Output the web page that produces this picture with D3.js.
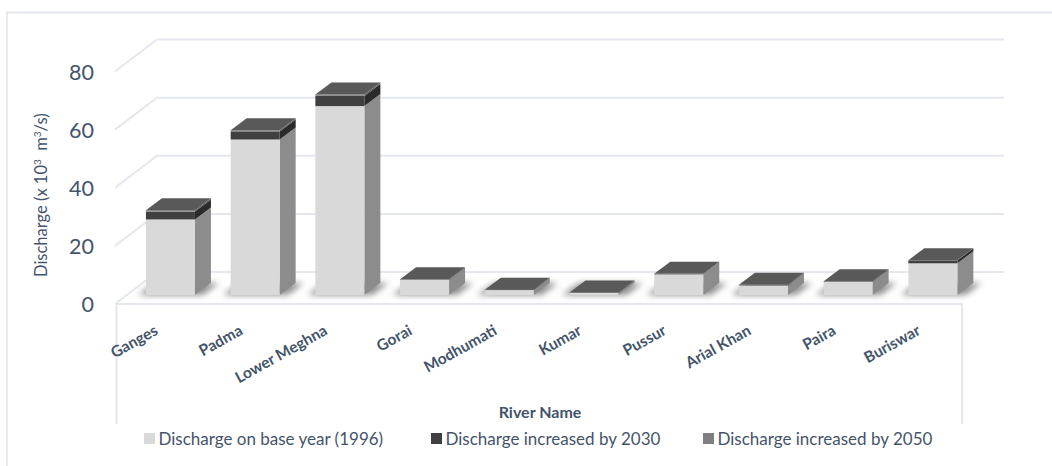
<!DOCTYPE html>
<html><head><meta charset="utf-8">
<script src="https://cdn.jsdelivr.net/npm/d3@7"></script>
<style>html,body{margin:0;padding:0;background:#fff}svg{display:block}</style></head>
<body><script>
const rivers = ["Ganges","Padma","Lower Meghna","Gorai","Modhumati","Kumar","Pussur","Arial Khan","Paira","Buriswar"];
const base1996 = [26,53.5,65,5.2,1.7,0.8,7.1,3.3,4.5,10.9];
const inc2030 = [2.7,2.8,3.5,0.15,0.05,0.05,0.15,0.15,0.15,1.0];
const inc2050 = [0.5,0.4,0.5,0.05,0.05,0.05,0.05,0.05,0.05,0.1];
const yTicks = [0,20,40,60,80];
const seriesNames = ["Discharge on base year (1996)","Discharge increased by 2030","Discharge increased by 2050"];
const frontColors = ["#d9d9d9","#404040","#8a8a8a"];
const sideColors = ["#8c8c8c","#2b2b2b","#5a5a5a"];
const legendColors = ["#d9d9d9","#404040","#7f7f7f"];

const W=1052,H=466, grid="#e4e7ee", ink="#44546a", font="Lato, Carlito, sans-serif";
const svg=d3.select("body").append("svg").attr("width",W).attr("height",H).style("font-family",font);
const defs=svg.append("defs");
defs.append("filter").attr("id","blur").attr("x","-30%").attr("y","-60%").attr("width","160%").attr("height","220%")
  .append("feGaussianBlur").attr("stdDeviation",3);

svg.append("path").attr("d","M7,466V12.5H1052").attr("fill","none").attr("stroke",grid).attr("stroke-width",1.8);

const dx=42, dy=-32;           // depth of the floor
const y=d3.scaleLinear().domain([0,80]).range([304,71.5]);
const frontL=115, frontR=962;
const g=svg.append("g");
yTicks.forEach(t=>{
  const p=[[frontL,y(t)],[frontL+dx,y(t)+dy],[frontR+dx,y(t)+dy]];
  g.append("path").attr("d",d3.line()(p)).attr("fill","none").attr("stroke",grid).attr("stroke-width",2);
  g.append("text").attr("x",94).attr("y",y(t)+8).attr("text-anchor","end").attr("font-size",21.5).attr("fill",ink).text(t);
});
// floor front edge and drop lines
g.append("path").attr("d",d3.line()([[116.5,424],[116.5,304],[962,304],[962,424]])).attr("fill","none").attr("stroke",grid).attr("stroke-width",2);

// bars
const x=d3.scaleBand().domain(rivers).range([128.15,975.15]).paddingInner(0.4215).paddingOuter(0.21);
const bx=16, by=-12, baseY=295;
const v=d=>y(d)-y(0);
const stacks=rivers.map((r,i)=>{let c=0;return [base1996[i],inc2030[i],inc2050[i]].map((val,s)=>{const o={r,s,y0:c,y1:c+val};c+=val;return o;});});
const poly=p=>d3.line()(p)+"Z";
// shadows
stacks.forEach((st,i)=>{
  const l=x(rivers[i]), w=x.bandwidth();
  g.append("path").attr("filter","url(#blur)").attr("fill","#8e8e8e")
   .attr("d",poly([[l-8,baseY],[l+w+8,baseY],[l+w+bx+8,baseY+by],[l+bx-6,baseY+by]]));
});
stacks.forEach((st,i)=>{
  const l=x(rivers[i]), w=x.bandwidth(), b=g.append("g");
  st.forEach(d=>{
    const t0=baseY+v(d.y0), t1=baseY+v(d.y1);
    b.append("path").attr("fill",sideColors[d.s]).attr("d",poly([[l+w,t0],[l+w+bx,t0+by],[l+w+bx,t1+by],[l+w,t1]]));
    b.append("rect").attr("x",l).attr("y",t1).attr("width",w).attr("height",t0-t1).attr("fill",frontColors[d.s]);
  });
  const top=baseY+v(st[2].y1);
  b.append("path").attr("fill","#595959").attr("d",poly([[l,top],[l+w,top],[l+w+bx,top+by],[l+bx,top+by]]));
});

// category labels
rivers.forEach(r=>{
  const cx=x(r)+x.bandwidth()/2-14;
  g.append("text").attr("transform",`translate(${cx},329) rotate(-29)`).attr("text-anchor","end")
   .attr("font-size",15.5).attr("font-weight",700).attr("fill",ink).attr("dy","0.35em").text(r);
});
// axis titles
const yt=g.append("text").attr("transform","translate(47,277) rotate(-90)").attr("font-size",16.5).attr("fill",ink);
yt.append("tspan").text("Discharge (x 10");
yt.append("tspan").attr("font-size",10).attr("dy",-6).text("3");
yt.append("tspan").attr("dy",6).text(" \u00a0m");
yt.append("tspan").attr("font-size",10).attr("dy",-6).text("3");
yt.append("tspan").attr("dy",6).text("/s)");
g.append("text").attr("x",540).attr("y",418).attr("text-anchor","middle").attr("font-size",16).attr("font-weight",700).attr("fill",ink).text("River Name");
// legend
const legX=[144,431,703];
seriesNames.forEach((n,i)=>{
  g.append("rect").attr("x",legX[i]).attr("y",433).attr("width",11).attr("height",11).attr("fill",legendColors[i]);
  g.append("text").attr("x",legX[i]+14.5).attr("y",445).attr("font-size",17).attr("fill",ink).text(n);
});
</script></body></html>
